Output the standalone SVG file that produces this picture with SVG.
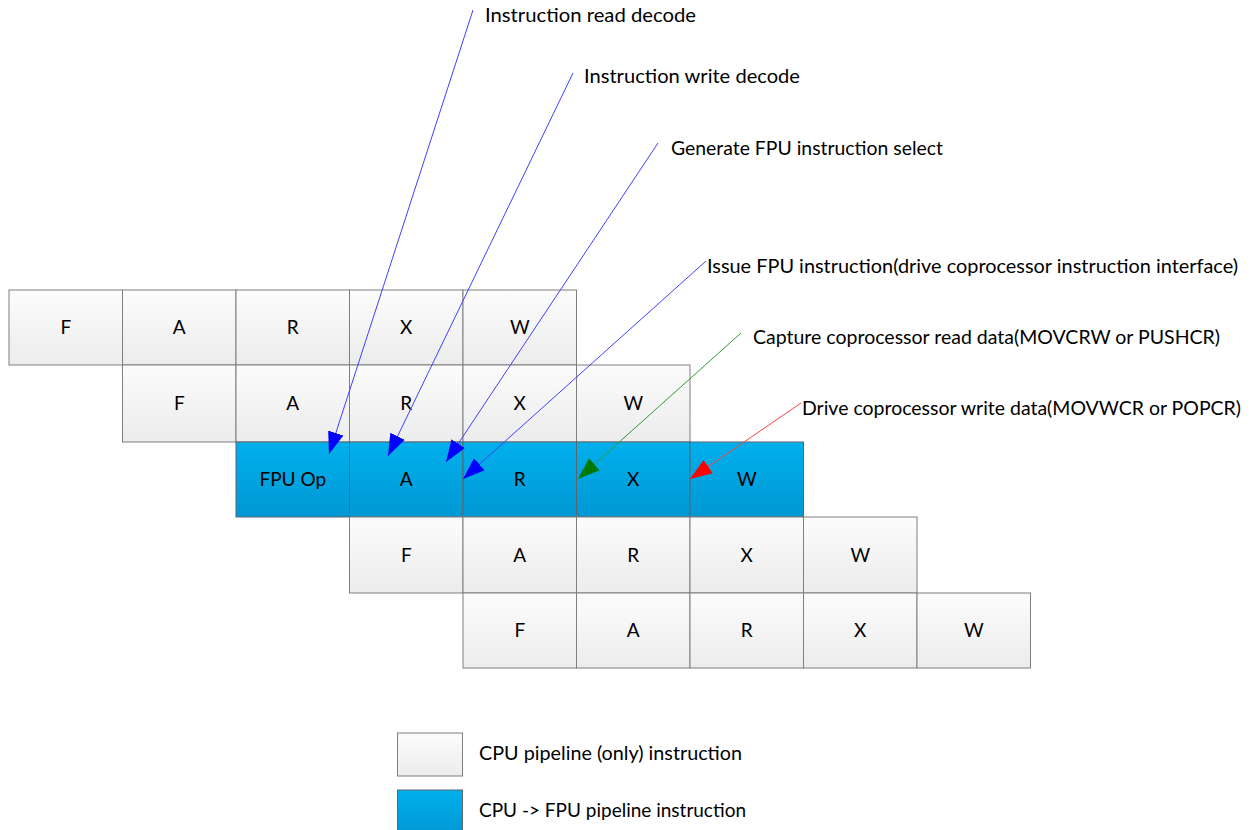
<svg xmlns="http://www.w3.org/2000/svg" width="1254" height="830" viewBox="0 0 1254 830">
  <defs>
    <linearGradient id="gGray" x1="0" y1="0" x2="0" y2="1">
      <stop offset="0" stop-color="#fcfcfc"/>
      <stop offset="1" stop-color="#ececec"/>
    </linearGradient>
    <linearGradient id="gBlue" x1="0" y1="0" x2="0" y2="1">
      <stop offset="0" stop-color="#00b0ec"/>
      <stop offset="1" stop-color="#0098d4"/>
    </linearGradient>
    <marker id="mBlue" markerUnits="userSpaceOnUse" markerWidth="24" markerHeight="18" viewBox="0 0 24 18" refX="22" refY="9" orient="auto">
      <path d="M0,1 L22,9 L0,17 z" fill="#0000ff"/>
    </marker>
    <marker id="mGreen" markerUnits="userSpaceOnUse" markerWidth="24" markerHeight="18" viewBox="0 0 24 18" refX="22" refY="9" orient="auto">
      <path d="M0,1 L22,9 L0,17 z" fill="#007a00"/>
    </marker>
    <marker id="mRed" markerUnits="userSpaceOnUse" markerWidth="24" markerHeight="18" viewBox="0 0 24 18" refX="22" refY="9" orient="auto">
      <path d="M0,1 L22,9 L0,17 z" fill="#ff0000"/>
    </marker>
  </defs>
  <style>
    .cpu { fill: url(#gGray); stroke: #7f7f7f; stroke-width: 1; }
    .fpu { fill: url(#gBlue); stroke: #5b6570; stroke-width: 1; }
    .t { font-family: Lato, "Liberation Sans", sans-serif; font-size: 19px; fill: #000; text-anchor: middle; }
    .lbl { font-family: Lato, "Liberation Sans", sans-serif; font-size: 19px; fill: #000; }
    .ln { fill: none; stroke-width: 1; }
  </style>

  <rect width="1254" height="830" fill="#ffffff"/>

  <!-- instruction 1: plain CPU pipeline -->
  <g id="instr1">
    <rect class="cpu" x="9" y="290" width="113.5" height="75"/>
    <rect class="cpu" x="122.5" y="290" width="113.5" height="75"/>
    <rect class="cpu" x="236" y="290" width="113.5" height="75"/>
    <rect class="cpu" x="349.5" y="290" width="113.5" height="75"/>
    <rect class="cpu" x="463" y="290" width="113.5" height="75"/>
    <text class="t" x="65.75" y="334">F</text>
    <text class="t" x="179.25" y="334">A</text>
    <text class="t" x="292.75" y="334">R</text>
    <text class="t" x="406.25" y="334">X</text>
    <text class="t" x="519.75" y="334">W</text>
  </g>

  <!-- instruction 2 -->
  <g id="instr2">
    <rect class="cpu" x="122.5" y="365" width="113.5" height="77"/>
    <rect class="cpu" x="236" y="365" width="113.5" height="77"/>
    <rect class="cpu" x="349.5" y="365" width="113.5" height="77"/>
    <rect class="cpu" x="463" y="365" width="113.5" height="77"/>
    <rect class="cpu" x="576.5" y="365" width="113.5" height="77"/>
    <text class="t" x="179.25" y="410">F</text>
    <text class="t" x="292.75" y="410">A</text>
    <text class="t" x="406.25" y="410">R</text>
    <text class="t" x="519.75" y="410">X</text>
    <text class="t" x="633.25" y="410">W</text>
  </g>

  <!-- instruction 3: CPU -> FPU -->
  <g id="instr3">
    <rect class="fpu" x="236" y="442" width="113.5" height="75"/>
    <rect class="fpu" x="349.5" y="442" width="113.5" height="75"/>
    <rect class="fpu" x="463" y="442" width="113.5" height="75"/>
    <rect class="fpu" x="576.5" y="442" width="113.5" height="75"/>
    <rect class="fpu" x="690" y="442" width="113.5" height="75"/>
    <text class="t" x="292.75" y="486">FPU Op</text>
    <text class="t" x="406.25" y="486">A</text>
    <text class="t" x="519.75" y="486">R</text>
    <text class="t" x="633.25" y="486">X</text>
    <text class="t" x="746.75" y="486">W</text>
  </g>

  <!-- instruction 4 -->
  <g id="instr4">
    <rect class="cpu" x="349.5" y="517" width="113.5" height="76"/>
    <rect class="cpu" x="463" y="517" width="113.5" height="76"/>
    <rect class="cpu" x="576.5" y="517" width="113.5" height="76"/>
    <rect class="cpu" x="690" y="517" width="113.5" height="76"/>
    <rect class="cpu" x="803.5" y="517" width="113.5" height="76"/>
    <text class="t" x="406.25" y="562">F</text>
    <text class="t" x="519.75" y="562">A</text>
    <text class="t" x="633.25" y="562">R</text>
    <text class="t" x="746.75" y="562">X</text>
    <text class="t" x="860.25" y="562">W</text>
  </g>

  <!-- instruction 5 -->
  <g id="instr5">
    <rect class="cpu" x="463" y="593" width="113.5" height="75"/>
    <rect class="cpu" x="576.5" y="593" width="113.5" height="75"/>
    <rect class="cpu" x="690" y="593" width="113.5" height="75"/>
    <rect class="cpu" x="803.5" y="593" width="113.5" height="75"/>
    <rect class="cpu" x="917" y="593" width="113.5" height="75"/>
    <text class="t" x="519.75" y="637">F</text>
    <text class="t" x="633.25" y="637">A</text>
    <text class="t" x="746.75" y="637">R</text>
    <text class="t" x="860.25" y="637">X</text>
    <text class="t" x="973.75" y="637">W</text>
  </g>

  <!-- annotation arrows -->
  <g id="connectors">
    <line class="ln" x1="473" y1="10" x2="329" y2="454" stroke="#4040ff" marker-end="url(#mBlue)"/>
    <line class="ln" x1="573" y1="73" x2="388" y2="456" stroke="#4040ff" marker-end="url(#mBlue)"/>
    <line class="ln" x1="658" y1="143" x2="446" y2="462" stroke="#4040ff" marker-end="url(#mBlue)"/>
    <line class="ln" x1="706" y1="261" x2="463" y2="479" stroke="#4040ff" marker-end="url(#mBlue)"/>
    <line class="ln" x1="741" y1="333" x2="578" y2="479" stroke="#2f9a2f" marker-end="url(#mGreen)"/>
    <line class="ln" x1="801" y1="403" x2="690" y2="479" stroke="#ff4040" marker-end="url(#mRed)"/>
  </g>

  <!-- annotation labels -->
  <g id="labels">
    <text class="lbl" x="485" y="22" textLength="211" lengthAdjust="spacingAndGlyphs">Instruction read decode</text>
    <text class="lbl" x="584" y="83" textLength="216" lengthAdjust="spacingAndGlyphs">Instruction write decode</text>
    <text class="lbl" x="671" y="155" textLength="272" lengthAdjust="spacingAndGlyphs">Generate FPU instruction select</text>
    <text class="lbl" x="707" y="273" textLength="531" lengthAdjust="spacingAndGlyphs">Issue FPU instruction(drive coprocessor instruction interface)</text>
    <text class="lbl" x="753" y="344" textLength="467" lengthAdjust="spacingAndGlyphs">Capture coprocessor read data(MOVCRW or PUSHCR)</text>
    <text class="lbl" x="802" y="415" textLength="439" lengthAdjust="spacingAndGlyphs">Drive coprocessor write data(MOVWCR or POPCR)</text>
  </g>

  <!-- legend -->
  <g id="legend-cpu">
    <rect class="cpu" x="397.5" y="733" width="65" height="43"/>
    <text class="lbl" x="479" y="760" textLength="263" lengthAdjust="spacingAndGlyphs">CPU pipeline (only) instruction</text>
  </g>
  <g id="legend-fpu">
    <rect class="fpu" x="397.5" y="790" width="65" height="45"/>
    <text class="lbl" x="479" y="817" textLength="267" lengthAdjust="spacingAndGlyphs">CPU -&gt; FPU pipeline instruction</text>
  </g>
</svg>
